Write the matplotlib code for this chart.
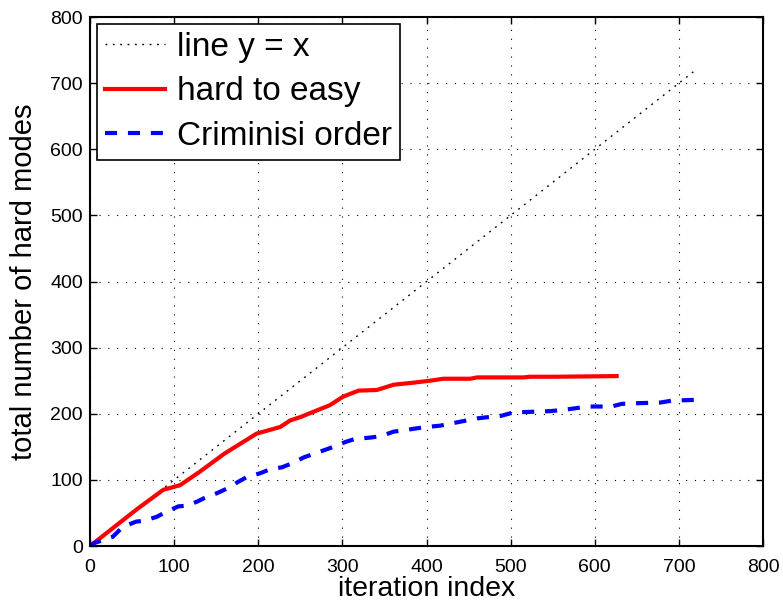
import matplotlib
matplotlib.use("Agg")
import matplotlib.pyplot as plt

plt.rcParams['font.family'] = ['Liberation Sans', 'DejaVu Sans']

# reference diagonal
diag_x = [0, 720]
diag_y = [0, 720]

# hard-to-easy ordering: cumulative hard modes per iteration
hard_x = [0, 27, 55, 87, 107, 130, 160, 198, 226, 238, 250, 285, 301, 319,
          341, 361, 384, 404, 420, 452, 460, 515, 523, 551, 626]
hard_y = [0, 27, 55, 85, 92, 112, 140, 170, 180, 190, 195, 213, 226, 235,
          236, 244, 247, 250, 253, 253, 255, 255, 256, 256, 257]

# Criminisi ordering
crim_x = [0, 4, 27, 39, 55, 63, 79, 91, 105, 115, 127, 135, 151, 163, 176,
          186, 202, 214, 228, 240, 254, 285, 305, 315, 333, 345, 361, 373,
          388, 400, 416, 432, 452, 460, 480, 489, 503, 547, 563, 575, 591,
          620, 632, 650, 678, 692, 720]
crim_y = [0, 4, 14, 29, 37, 38, 44, 52, 60, 61, 67, 72, 80, 87, 97, 104,
          110, 116, 119, 125, 134, 148, 158, 162, 164, 166, 173, 175, 178,
          180, 182, 186, 191, 193, 196, 197, 202, 204, 206, 208, 211, 211,
          215, 216, 217, 220, 221]

x_ticks = [0, 100, 200, 300, 400, 500, 600, 700, 800]
y_ticks = [0, 100, 200, 300, 400, 500, 600, 700, 800]

fig = plt.figure(figsize=(7.83, 6.09), dpi=100)
ax = fig.add_axes([0.115, 0.1034, 0.8595, 0.8686])

ax.plot(diag_x, diag_y, linestyle=(0, (1.3, 4.0)), color='black',
        linewidth=1.0, label='line y = x')
ax.plot(hard_x, hard_y, linestyle='-', color='#ff0000', linewidth=3.0,
        label='hard to easy')
ax.plot(crim_x, crim_y, linestyle='--', color='#0000ff', linewidth=3.0,
        dashes=(2.9, 2.6), label='Criminisi order')

ax.set_xlim(0, 800)
ax.set_ylim(0, 800)
ax.set_xticks(x_ticks)
ax.set_yticks(y_ticks)
ax.tick_params(direction='in', top=True, right=True, labelsize=14,
               length=5, width=1.0)
ax.tick_params(axis='x', pad=9)
ax.tick_params(axis='y', pad=5)
ax.grid(True, linestyle=(0, (1, 7)), color='black', linewidth=0.8)
for s in ax.spines.values():
    s.set_linewidth(1.5)

ax.set_xlabel('iteration index', fontsize=20.5, labelpad=0)
ax.set_ylabel('total number of hard modes', fontsize=21, labelpad=9)

leg = ax.legend(loc='upper left', fontsize=24, frameon=True, fancybox=False,
                edgecolor='black', framealpha=1.0, handlelength=1.8,
                handletextpad=0.36, borderpad=0.25, labelspacing=0.4,
                borderaxespad=0.2)
leg.get_frame().set_linewidth(1.2)

fig.savefig('out.png', dpi=100)
